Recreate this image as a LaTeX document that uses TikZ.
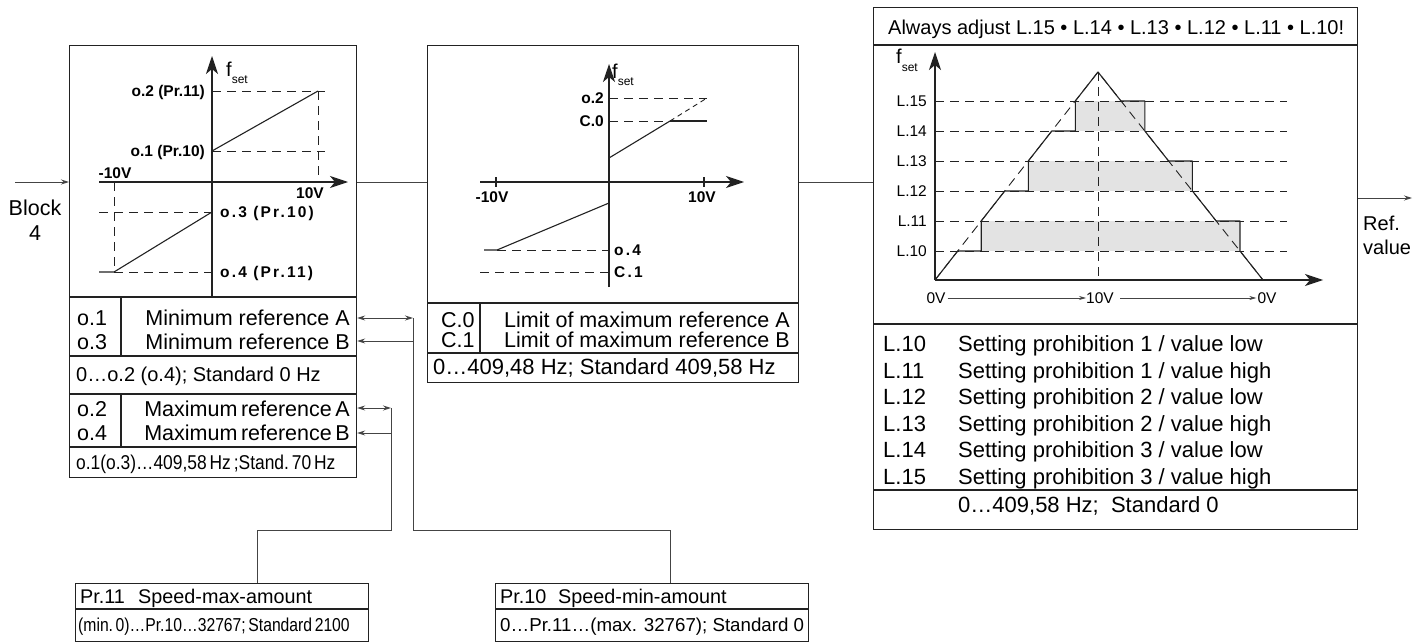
\documentclass[tikz,border=0pt]{standalone}
\usepackage{fontspec}
\usepackage{graphicx}
\setmainfont{Liberation Sans}
\usetikzlibrary{arrows.meta}
\definecolor{ln}{HTML}{222222}
\definecolor{cn}{HTML}{444444}
\definecolor{grayfill}{HTML}{E3E3E3}
\begin{document}
\begin{tikzpicture}[x=1pt,y=-1pt,
  box/.style={draw=ln, line width=1.2pt, inner sep=0pt, anchor=north west},
  rule/.style={draw=ln, line width=1.2pt},
  conn/.style={draw=cn, line width=0.9pt},
  arr/.style={-{Stealth[length=8pt,width=5pt]}},
  darr/.style={{Stealth[length=8pt,width=5pt]}-{Stealth[length=8pt,width=5pt]}},
  axis/.style={draw=ln, line width=1.1pt, -{Stealth[length=18pt,width=12pt,inset=5pt]}},
  dsh/.style={draw=ln, line width=0.9pt, dash pattern=on 9pt off 6pt},
  crv/.style={draw=ln, line width=1.1pt},
  tab/.style={inner sep=0pt, font=\fontsize{21.5}{21.5}\selectfont, text height=15.4pt, text depth=0pt},
  tabl/.style={inner sep=0pt, font=\fontsize{22}{22}\selectfont, text height=15.7pt, text depth=0pt},
  hdr/.style={inner sep=0pt, font=\fontsize{20}{20}\selectfont, text height=14.3pt, text depth=0pt},
  bot/.style={inner sep=0pt, font=\fontsize{19.8}{19.8}\selectfont, text height=14.2pt, text depth=0pt},
  bots/.style={inner sep=0pt, font=\fontsize{18.7}{18.7}\selectfont, text height=13.4pt, text depth=0pt},
  blab/.style={inner sep=0pt, font=\fontsize{15.5}{15.5}\selectfont\bfseries, text height=11.1pt, text depth=0pt},
  blabs/.style={inner sep=0pt, font=\fontsize{15.5}{15.5}\selectfont\bfseries\addfontfeature{LetterSpace=14}, text height=11.1pt, text depth=0pt},
  sml/.style={inner sep=0pt, font=\fontsize{15.5}{15.5}\selectfont, text height=11.1pt, text depth=0pt},
  fset/.style={inner sep=0pt, font=\fontsize{20}{20}\selectfont, anchor=base west}
]
\useasboundingbox (0,0) rectangle (1428,642);
\fill[white] (0,0) rectangle (1428,642);

% ---------------- blocks ----------------
\node[box, minimum width=287pt, minimum height=432pt] (b1) at (69,45) {};
\node[box, minimum width=371pt, minimum height=337pt] (b2) at (427,45) {};
\node[box, minimum width=484pt, minimum height=522pt] (b3) at (873,7) {};
\node[box, minimum width=293pt, minimum height=58pt] (p11) at (75,583) {};
\node[box, minimum width=313pt, minimum height=58pt] (p10) at (495,583) {};

% ---------------- main signal connectors ----------------
\coordinate (src) at (15,182);
\coordinate (ax) at (0,182);
\coordinate (out) at (1412,198);
\draw[conn,arr] (src) -- (src -| b1.west);
\draw[conn] (ax -| b1.east) -- (ax -| b2.west);
\draw[conn] (ax -| b2.east) -- (ax -| b3.west);
\draw[conn,arr] (out -| b3.east) -- (out);
\node[inner sep=0pt, font=\fontsize{21.5}{21.5}\selectfont, align=center] (blk) at (35,220) {Block\\[3pt]4};
\node[inner sep=0pt, font=\fontsize{20}{20}\selectfont, align=left, anchor=west] (ref) at (1363,235) {Ref.\\[4pt]value};

% ---------------- block 1 graph ----------------
\draw[dsh] (212,91) -- (325,91);
\draw[dsh] (212,151) -- (325,151);
\draw[dsh] (318,91) -- (318,182);
\draw[dsh] (114,182) -- (114,272);
\draw[dsh] (99,212) -- (212,212);
\draw[dsh] (114,272) -- (212,272);
\draw[crv] (212,151) -- (318,91);
\draw[crv] (99,272) -- (114,272) -- (212,212);
\draw[axis] (99,182) -- (348,182);
\draw[axis] (212,296) -- (212,56);
\node[fset] at (226,77) {f\raisebox{-7pt}{\fontsize{12}{12}\selectfont set}};
\node[blab, anchor=east] at (205,91) {o.2 (Pr.11)};
\node[blab, anchor=east] at (205,151) {o.1 (Pr.10)};
\node[blab] at (115,173) {-10V};
\node[blab] at (310,193) {10V};
\node[blabs, anchor=west] at (220,212) {o.3 (Pr.10)};
\node[blabs, anchor=west] at (220,272) {o.4 (Pr.11)};

% ---------------- block 1 tables ----------------
\draw[rule] (69,297) -- (356,297);
\draw[rule] (69,356) -- (356,356);
\draw[rule] (69,394) -- (356,394);
\draw[rule] (69,447) -- (356,447);
\draw[rule] (121,297) -- (121,356);
\draw[rule] (121,394) -- (121,447);
\node[tab, anchor=west] at (77,318) {o.1};
\node[tab, anchor=west] at (77,342) {o.3};
\node[tab, anchor=east] at (350,318) {Minimum reference A};
\node[tab, anchor=east] at (350,342) {Minimum reference B};
\node[hdr, anchor=west] at (76,374) {0…o.2 (o.4); Standard 0 Hz};
\node[tab, anchor=west] at (77,409) {o.2};
\node[tab, anchor=west] at (77,433) {o.4};
\node[tab, anchor=east] at (350,409) {Maximum\,reference\,A};
\node[tab, anchor=east] at (350,433) {Maximum\,reference\,B};
\node[hdr, anchor=west] at (76,462) {\scalebox{0.87}[1]{o.1(o.3)…409,58\,Hz\,;Stand.\,70\,Hz}};

% ---------------- parameter connectors ----------------
\coordinate (m1) at (413,318);
\coordinate (m2) at (413,341);
\coordinate (x1) at (391,408);
\coordinate (x2) at (391,433);
\coordinate (lvl) at (0,530);
\coordinate (kx10) at (670,0);
\coordinate (kx11) at (257,0);
\draw[conn,darr] (m1 -| b1.east) -- (m1);
\draw[conn,arr] (m2) -- (m2 -| b1.east);
\draw[conn,darr] (x1 -| b1.east) -- (x1);
\draw[conn,arr] (x2) -- (x2 -| b1.east);
\draw[conn] (m1) |- (lvl -| kx10) -- (kx10 |- p10.north);
\draw[conn] (x1) |- (lvl -| kx11) -- (kx11 |- p11.north);

% ---------------- block 2 graph ----------------
\draw[dsh] (609,98) -- (707,98);
\draw[dsh] (609,121) -- (670,121);
\draw[crv] (670,121) -- (707,121);
\draw[crv] (609,158) -- (670,121);
\draw[draw=ln, line width=0.9pt, dash pattern=on 5pt off 4pt] (670,121) -- (707,98);
\draw[dsh] (497,250) -- (609,250);
\draw[dsh] (480,272) -- (609,272);
\draw[crv] (609,203) -- (497,250) -- (484,250);
\draw[crv] (496,177) -- (496,187);
\draw[crv] (704,177) -- (704,187);
\draw[axis] (480,182) -- (744,182);
\draw[axis] (609,287) -- (609,64);
\draw[draw=ln, line width=1.7pt] (609,158) -- (609,203);
\node[fset] at (612,79) {f\raisebox{-7pt}{\fontsize{12}{12}\selectfont set}};
\node[blab, anchor=east] at (604,98) {o.2};
\node[blab, anchor=east] at (604,121) {C.0};
\node[blab] at (492,197) {-10V};
\node[blab] at (702,197) {10V};
\node[blabs, anchor=west] at (614,250) {o.4};
\node[blabs, anchor=west] at (614,272) {C.1};

% ---------------- block 2 table ----------------
\draw[rule] (427,303) -- (798,303);
\draw[rule] (427,353) -- (798,353);
\draw[rule] (480,303) -- (480,353);
\node[tab, anchor=west] at (441,320) {C.0};
\node[tab, anchor=west] at (441,340) {C.1};
\node[tab, anchor=east] at (790,320) {Limit of maximum reference A};
\node[tab, anchor=east] at (790,340) {Limit of maximum reference B};
\node[tabl, anchor=west] at (433,367) {0…409,48 Hz; Standard 409,58 Hz};

% ---------------- block 3 ----------------
\draw[rule] (873,45) -- (1357,45);
\draw[rule] (873,324) -- (1357,324);
\draw[rule] (873,490) -- (1357,490);
\node[hdr, anchor=west] at (888,27) {Always adjust L.15 • L.14 • L.13 • L.12 • L.11 • L.10!};

\fill[grayfill] (981.2,221) rectangle (1240,251);
\fill[grayfill] (1028.3,161) rectangle (1192.4,191);
\fill[grayfill] (1075.3,101) rectangle (1144.8,131);
\foreach \yy in {101,131,161,191,221,251} {\draw[dsh] (935,\yy) -- (1287,\yy);}
\draw[dsh] (1098,72) -- (1098,280);
\draw[dsh] (935,280) -- (1098,72) -- (1263,280);
\draw[crv, line join=round] (935,280) -- (957.7,251) -- (981.2,251) -- (981.2,221)
  -- (1004.7,191) -- (1028.3,191) -- (1028.3,161) -- (1051.8,131) -- (1075.3,131)
  -- (1075.3,101) -- (1098,72) -- (1121,101) -- (1144.8,101) -- (1144.8,131)
  -- (1168.6,161) -- (1192.4,161) -- (1192.4,191) -- (1216.2,221) -- (1240,221)
  -- (1240,251) -- (1263,280);
\draw[axis] (935,280) -- (1323,280);
\draw[axis] (935,280) -- (935,52);
\node[fset] at (896,64) {f\raisebox{-7pt}{\fontsize{12}{12}\selectfont set}};
\node[sml, anchor=east] at (927,101) {L.15};
\node[sml, anchor=east] at (927,131) {L.14};
\node[sml, anchor=east] at (927,161) {L.13};
\node[sml, anchor=east] at (927,191) {L.12};
\node[sml, anchor=east] at (927,221) {L.11};
\node[sml, anchor=east] at (927,251) {L.10};
\node[sml] (v0a) at (936,298) {0V};
\node[sml] (v10) at (1100,298) {10V};
\node[sml] (v0b) at (1267,298) {0V};
\draw[conn, line width=0.7pt, -{Stealth[length=7pt,width=4pt]}] (v0a.east) ++(2,0) -- (v10.west);
\draw[conn, line width=0.7pt, -{Stealth[length=7pt,width=4pt]}] (v10.east) ++(6,0) -- ([xshift=-1pt]v0b.west);

\node[tabl, anchor=west] at (883,344) {L.10};
\node[tabl, anchor=west] at (883,371) {L.11};
\node[tabl, anchor=west] at (883,397) {L.12};
\node[tabl, anchor=west] at (883,424) {L.13};
\node[tabl, anchor=west] at (883,450) {L.14};
\node[tabl, anchor=west] at (883,477) {L.15};
\node[tabl, anchor=west] at (958,344) {Setting prohibition 1 / value low};
\node[tabl, anchor=west] at (958,371) {Setting prohibition 1 / value high};
\node[tabl, anchor=west] at (958,397) {Setting prohibition 2 / value low};
\node[tabl, anchor=west] at (958,424) {Setting prohibition 2 / value high};
\node[tabl, anchor=west] at (958,450) {Setting prohibition 3 / value low};
\node[tabl, anchor=west] at (958,477) {Setting prohibition 3 / value high};
\node[tabl, anchor=west] at (958,505) {0…409,58 Hz;\ \ Standard 0};

% ---------------- parameter boxes ----------------
\draw[rule] (75,609) -- (368,609);
\draw[rule] (495,609) -- (808,609);
\node[bot, anchor=west] at (80,596) {Pr.11};
\node[bot, anchor=west] at (138,596) {Speed-max-amount};
\node[bots, anchor=west] at (78,625) {\scalebox{0.84}[1]{(min.\,0)…Pr.10…32767;\,Standard\,2100}};
\node[bot, anchor=west] at (500,596) {Pr.10};
\node[bot, anchor=west] at (558,596) {Speed-min-amount};
\node[bots, anchor=west] at (500,625) {0…Pr.11…(max. 32767); Standard 0};
\end{tikzpicture}
\end{document}
